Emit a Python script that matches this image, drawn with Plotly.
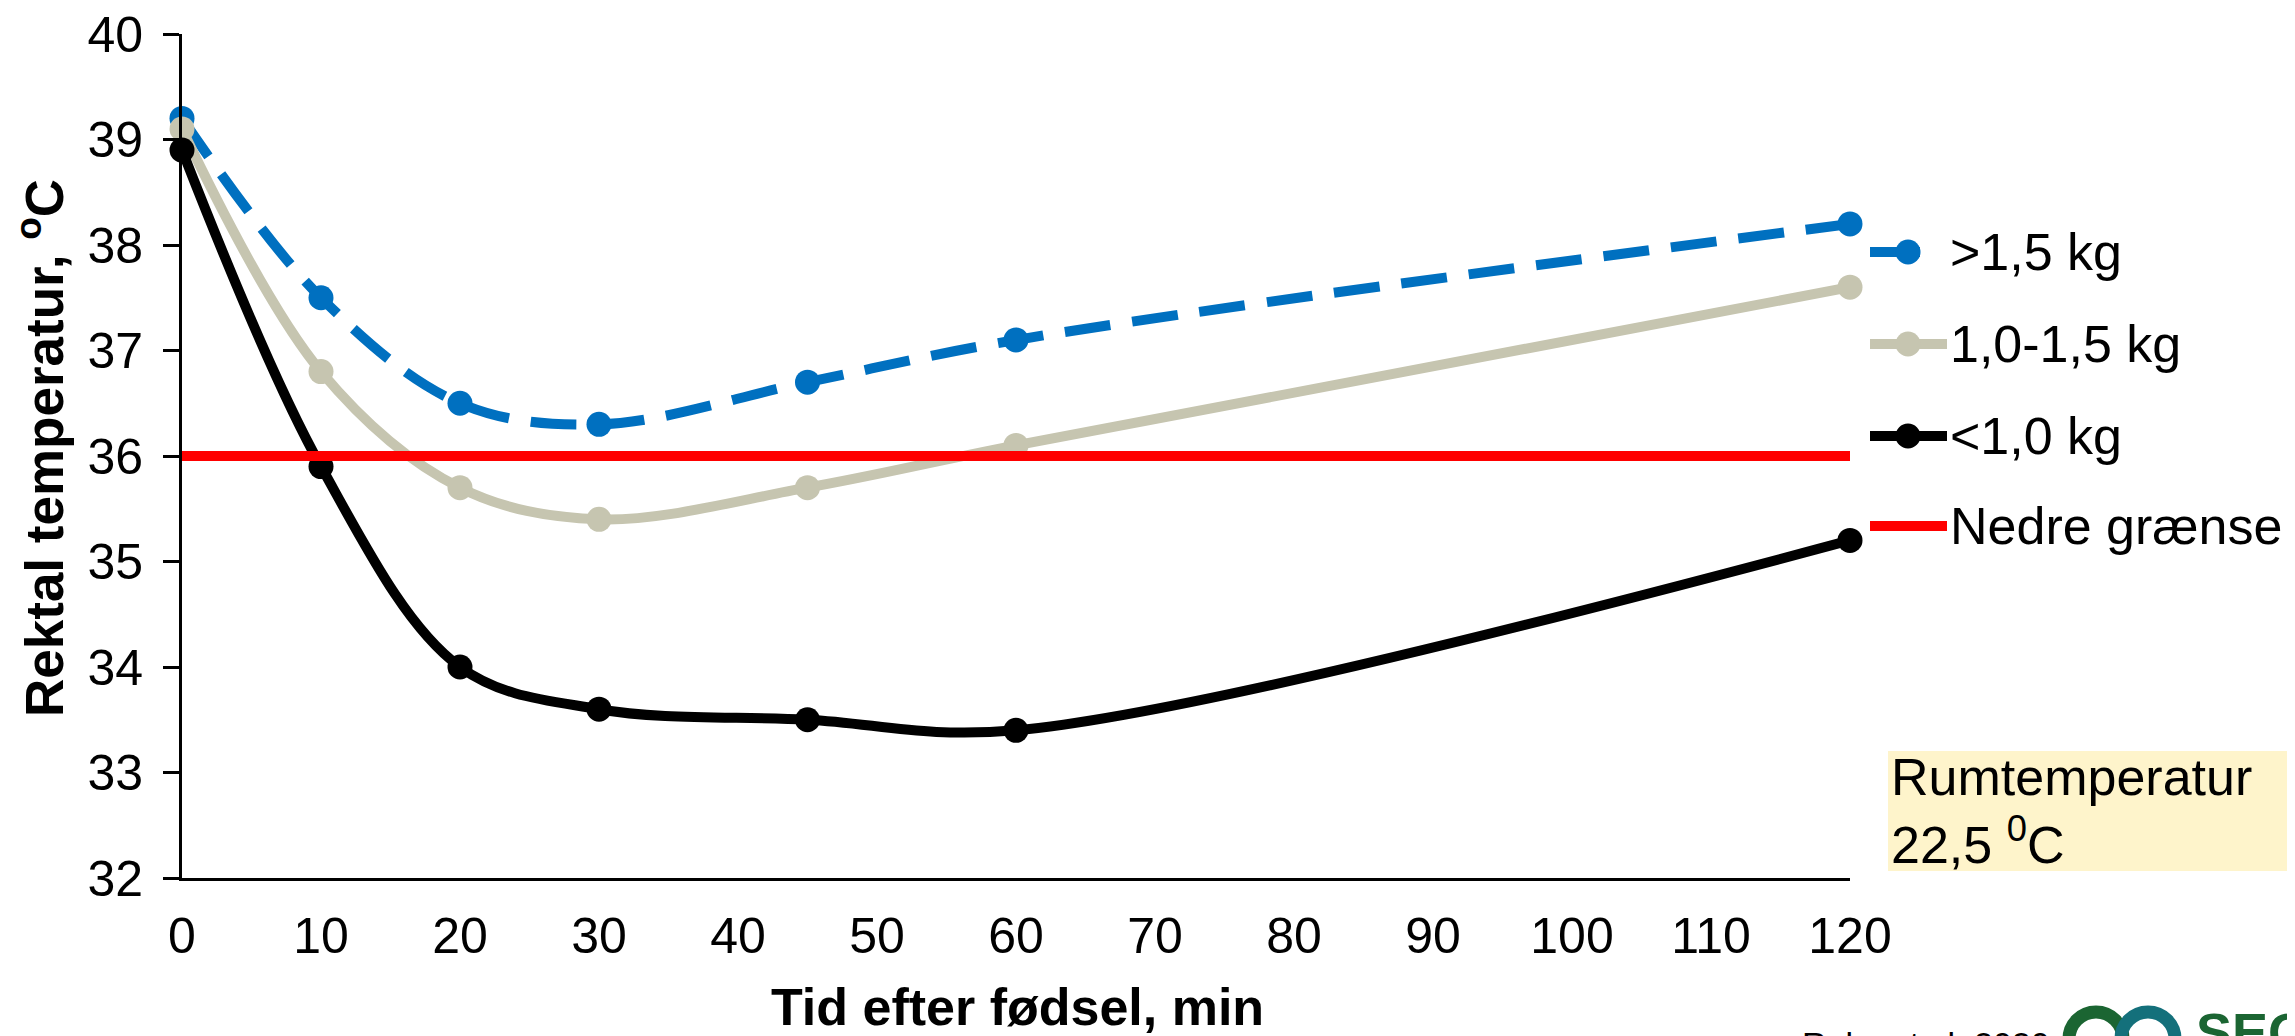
import plotly.graph_objects as go

# ---- data ----
minutes = [0, 10, 20, 30, 45, 60, 120]
over_15 = [39.2, 37.5, 36.5, 36.3, 36.7, 37.1, 38.2]
mid_10_15 = [39.1, 36.8, 35.7, 35.4, 35.7, 36.1, 37.6]
under_10 = [38.9, 35.9, 34.0, 33.6, 33.5, 33.4, 35.2]
limit_x = [0, 120]
limit_y = [36, 36]
names = [">1,5 kg", "1,0-1,5 kg", "<1,0 kg", "Nedre grænse"]
colors = ["#0070C0", "#C6C5B0", "#000000", "#FF0000"]
x_ticks = list(range(0, 121, 10))
y_ticks = list(range(32, 41))

W, H = 2295, 1036
OFF = 8  # page body margin
L, R, T, B = 182 - OFF, 1850 - OFF, 34 - OFF, 878 - OFF  # plot area pixel box


def px(x):
    return (x - OFF - L) / (R - L)


def py(y):
    return (B - (y - OFF)) / (B - T)


FONT = "Liberation Sans, Arial, sans-serif"
LW = 10
MS = 25

fig = go.Figure()
fig.add_trace(go.Scatter(
    x=minutes, y=over_15, name=names[0], mode="lines+markers",
    line=dict(color=colors[0], width=LW, dash="46px,22px", shape="spline", smoothing=1),
    marker=dict(size=MS, color=colors[0]), cliponaxis=False))
fig.add_trace(go.Scatter(
    x=minutes, y=mid_10_15, name=names[1], mode="lines+markers",
    line=dict(color=colors[1], width=LW, shape="spline", smoothing=1),
    marker=dict(size=MS, color=colors[1]), cliponaxis=False))
fig.add_trace(go.Scatter(
    x=minutes, y=under_10, name=names[2], mode="lines+markers",
    line=dict(color=colors[2], width=LW, shape="spline", smoothing=1),
    marker=dict(size=MS, color=colors[2]), cliponaxis=False))
fig.add_trace(go.Scatter(
    x=limit_x, y=limit_y, name=names[3], mode="lines",
    line=dict(color=colors[3], width=LW), cliponaxis=False))

fig.update_layout(
    width=W, height=H, autosize=False,
    margin=dict(l=L, r=W - R, t=T, b=H - B, pad=0, autoexpand=False),
    paper_bgcolor="white", plot_bgcolor="white",
    font=dict(family=FONT, size=50, color="black"),
    showlegend=False,
)
fig.update_xaxes(
    range=[0, 120], tickvals=x_ticks, ticktext=[str(v) for v in x_ticks],
    showgrid=False, zeroline=False, showline=True, linecolor="black", linewidth=3,
    ticks="", ticklabelstandoff=12, ticklabeloverflow="allow", automargin=False,
    tickfont=dict(size=50, family=FONT))
fig.update_yaxes(
    range=[32, 40], tickvals=y_ticks, ticktext=[str(v) for v in y_ticks],
    showgrid=False, zeroline=False, showline=True, linecolor="black", linewidth=3,
    ticks="outside", ticklen=16, tickwidth=3, tickcolor="black",
    ticklabelstandoff=10, ticklabeloverflow="allow", automargin=False,
    tickfont=dict(size=50, family=FONT))

# manual legend (reference pixel positions)
leg_y = [252, 344, 436, 526]
for i, (nm, col) in enumerate(zip(names, colors)):
    y = leg_y[i]
    x_end = 1920 if i == 0 else 1947
    fig.add_shape(type="line", xref="paper", yref="paper",
                  x0=px(1870), x1=px(x_end), y0=py(y), y1=py(y),
                  line=dict(color=col, width=LW))
    if i < 3:
        fig.add_shape(type="circle", xref="paper", yref="paper",
                      x0=px(1908 - MS / 2), x1=px(1908 + MS / 2),
                      y0=py(y + MS / 2), y1=py(y - MS / 2),
                      fillcolor=col, line=dict(width=0))
    fig.add_annotation(
        text=nm, xref="paper", yref="paper", x=px(1948), y=py(y),
        xanchor="left", yanchor="middle", showarrow=False,
        font=dict(size=52, family=FONT))

# axis titles
fig.add_annotation(
    text="<b>Tid efter fødsel, min</b>", xref="paper", yref="paper",
    x=px(1017), y=py(1007), xanchor="center", yanchor="middle", showarrow=False,
    font=dict(size=52, family=FONT))
fig.add_annotation(
    text="<b>Rektal temperatur, <sup>o</sup>C</b>", xref="paper", yref="paper",
    x=px(40), y=py(448), xanchor="center", yanchor="middle", textangle=-90,
    showarrow=False, font=dict(size=53, family=FONT))

# room temperature box
fig.add_shape(type="rect", xref="paper", yref="paper",
              x0=px(1888), x1=px(W + 20), y0=py(871), y1=py(751),
              fillcolor="#FEF4CB", line=dict(width=0), layer="below")
fig.add_annotation(
    text="Rumtemperatur<br>22,5 <sup>0</sup>C", xref="paper", yref="paper",
    x=px(1889), y=py(811), xanchor="left", yanchor="middle", align="left",
    showarrow=False, font=dict(size=52, family=FONT))

# citation and logo (cut off at bottom edge)
fig.add_annotation(
    text="Ruby et al. 2020", xref="paper", yref="paper",
    x=px(1800), y=py(1023), xanchor="left", yanchor="top", showarrow=False,
    font=dict(size=34, family=FONT))
for cx, col in [(2096, "#1B6532"), (2148, "#14707B")]:
    fig.add_shape(type="circle", xref="paper", yref="paper",
                  x0=px(cx - 27), x1=px(cx + 27), y0=py(1066), y1=py(1012),
                  line=dict(color=col, width=13))
fig.add_annotation(
    text="<b>SEGES</b>", xref="paper", yref="paper",
    x=px(2194), y=py(1000), xanchor="left", yanchor="top", showarrow=False,
    font=dict(size=54, family=FONT, color="#1B6532"))

fig.write_html("out.html")
